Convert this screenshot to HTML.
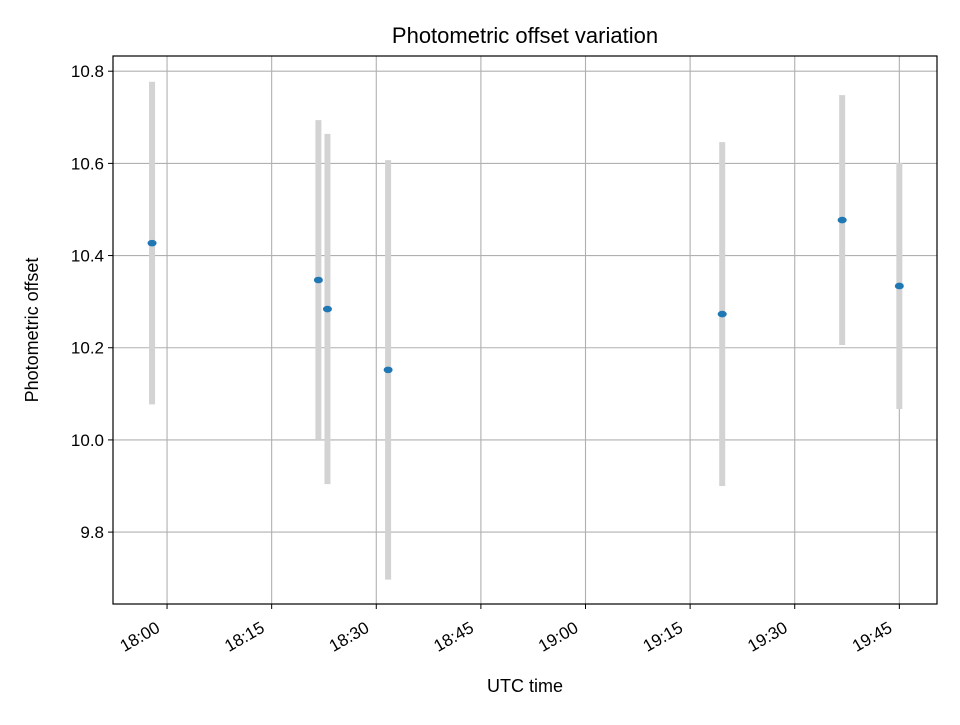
<!DOCTYPE html>
<html><head><meta charset="utf-8"><style>
body{margin:0;background:#fff}
text{font-family:"Liberation Sans","DejaVu Sans",sans-serif;fill:#000}
</style></head><body>
<svg id="chart" width="960" height="720" viewBox="0 0 960 720">
<rect width="960" height="720" fill="#fff"/>
<g id="grid"></g>
<g id="bars"></g>
<g id="pts"></g>
<rect x="113" y="56" width="824" height="548" fill="none" stroke="#000" stroke-width="1.2"/>
<g id="xt"></g><g id="yt"></g>
<text x="525" y="43" text-anchor="middle" font-size="22">Photometric offset variation</text>
<text x="525" y="692" text-anchor="middle" font-size="18">UTC time</text>
<text transform="translate(38,330) rotate(-90)" text-anchor="middle" font-size="18">Photometric offset</text>
</svg>
<script>
// minutes after 18:00
const times=[-2.15,21.7,23.0,31.7,79.6,96.8,105.0];
const offsets=[10.427,10.347,10.284,10.152,10.273,10.477,10.334];
const errors=[0.35,0.347,0.38,0.455,0.373,0.271,0.267];
const xTickMinutes=[0,15,30,45,60,75,90,105];
const xTickLabels=["18:00","18:15","18:30","18:45","19:00","19:15","19:30","19:45"];
const yTicks=[9.8,10.0,10.2,10.4,10.6,10.8];
const L=113,R=937,T=56,B=604,xmin=-7.75,xmax=110.4,ymin=9.644,ymax=10.833;
const X=m=>L+(m-xmin)/(xmax-xmin)*(R-L);
const Y=v=>B-(v-ymin)/(ymax-ymin)*(B-T);
const NS="http://www.w3.org/2000/svg";
function mk(t,a,p){const e=document.createElementNS(NS,t);for(const k in a)e.setAttribute(k,a[k]);p.appendChild(e);return e;}
const grid=document.getElementById('grid'),xt=document.getElementById('xt'),yt=document.getElementById('yt');
xTickMinutes.forEach((m,i)=>{const x=X(m);
 const g=mk('line',{x1:x,x2:x,y1:T,y2:B,stroke:'#b0b0b0','stroke-width':1.1},grid);
 
 
 mk('line',{x1:x,x2:x,y1:B,y2:B+5,stroke:'#000'},xt);
 const t=mk('text',{x:0,y:0,'font-size':17,'text-anchor':'end',transform:`translate(${x-6},${B+27}) rotate(-30)`},xt);
 t.textContent=xTickLabels[i];
 
 
});
yTicks.forEach(v=>{const y=Y(v);
 const g=mk('line',{x1:L,x2:R,y1:y,y2:y,stroke:'#b0b0b0','stroke-width':1.1},grid);
 
 
 mk('line',{x1:L-5,x2:L,y1:y,y2:y,stroke:'#000'},yt);
 const t=mk('text',{x:L-9,y:y+6,'font-size':17,'text-anchor':'end'},yt);
 t.textContent=v.toFixed(1);
 
 
});
const bars=document.getElementById('bars'),pts=document.getElementById('pts');
times.forEach((m,i)=>{const x=X(m);
 const b=mk('line',{x1:x,x2:x,y1:Y(offsets[i]+errors[i]),y2:Y(offsets[i]-errors[i]),stroke:'#d3d3d3','stroke-width':6},bars);
 
 
 const p=mk('ellipse',{cx:x,cy:Y(offsets[i]),rx:4.5,ry:3.3,fill:'#1f77b4'},pts);
 
 
});
</script>
</body></html>
